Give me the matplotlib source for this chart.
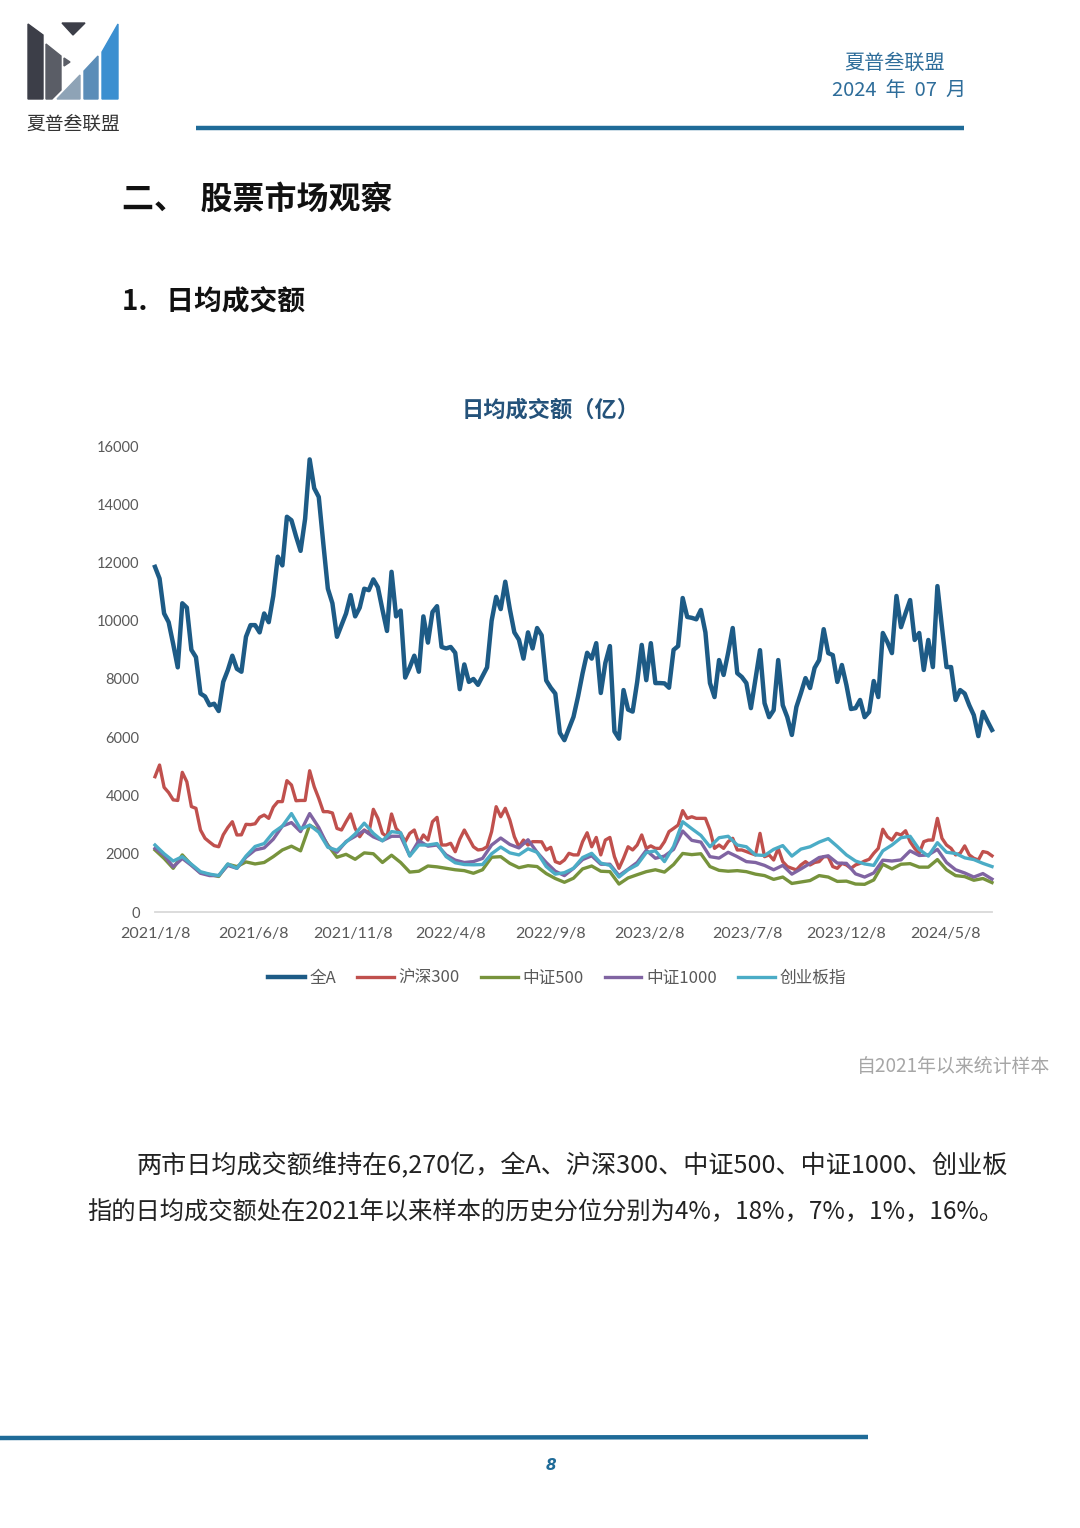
import matplotlib
matplotlib.use("Agg")
import matplotlib.pyplot as plt
import pandas as pd
from matplotlib.patches import Polygon

plt.rcParams['font.family'] = ['Noto Sans CJK SC', 'DejaVu Sans']

# 每周数据, 2021/1/8 起
weeks = pd.date_range('2021-01-08', periods=185, freq='7D')
weeks2 = weeks[::2]

quan_a = [11850, 11450, 10250, 9950, 9200, 8400, 10600, 10450, 9000, 8750,
          7500, 7400, 7100, 7150, 6900, 7900, 8300, 8800, 8350, 8250,
          9450, 9850, 9850, 9600, 10250, 9950, 10850, 12200, 11900, 13570,
          13450, 12900, 12400, 13500, 15540, 14550, 14250, 12650, 11100, 10600,
          9450, 9850, 10250, 10880, 10150, 10450, 11100, 11050, 11420, 11150,
          10380, 9650, 11680, 10150, 10350, 8050, 8400, 8800, 8250, 10150,
          9250, 10300, 10500, 9100, 9050, 9100, 8900, 7650, 8500, 7900,
          8000, 7800, 8100, 8400, 10000, 10820, 10400, 11340, 10400, 9600,
          9350, 8700, 9600, 9050, 9750, 9500, 7950, 7700, 7500, 6150,
          5900, 6300, 6700, 7400, 8200, 8900, 8700, 9230, 7520, 8550,
          9130, 6200, 5950, 7620, 6950, 6880, 7900, 9170, 7960, 9230,
          7860, 7860, 7850, 7700, 9000, 9130, 10780, 10130, 10100, 10050,
          10370, 9600, 7860, 7380, 8650, 8140, 8900, 9750, 8200, 8070,
          7860, 7000, 8000, 8990, 7170, 6690, 6930, 8650, 7100, 6690,
          6080, 7040, 7520, 8030, 7690, 8380, 8650, 9710, 8890, 8820,
          7900, 8480, 7790, 6970, 7000, 7280, 6690, 6870, 7930, 7380,
          9580, 9270, 8890, 10850, 9780, 10260, 10710, 9340, 9580, 8310,
          9340, 8410, 11190, 9780, 8410, 8410, 7280, 7620, 7500, 7100,
          6760, 6040, 6870, 6550, 6250]

hs300 = [4645, 5046, 4280, 4100, 3850, 3830, 4795, 4470, 3620, 3560,
         2815, 2530, 2400, 2280, 2240, 2650, 2900, 3100, 2645, 2650,
         3010, 3000, 3030, 3250, 3330, 3215, 3600, 3790, 3790, 4510,
         4360, 3820, 3830, 3830, 4850, 4300, 3900, 3445, 3445, 3400,
         2870, 2815, 3100, 3365, 2870, 2585, 2815, 2700, 3525, 3215,
         2700, 2585, 3365, 2870, 2700, 2415, 2700, 2815, 2360, 2645,
         2470, 3100, 3250, 2300, 2300, 2360, 2070, 2500, 2815, 2530,
         2240, 2130, 2150, 2240, 2760, 3615, 3270, 3560, 3160, 2585,
         2240, 2470, 2300, 2415, 2415, 2410, 2130, 2220, 1730, 1670,
         1785, 2015, 1960, 1960, 2415, 2720, 2240, 2560, 1960, 2470,
         2560, 1900, 1500, 1845, 2240, 2130, 2300, 2645, 2185, 2270,
         2185, 2185, 2415, 2760, 2870, 2985, 3480, 3215, 3270, 3215,
         3215, 3215, 2815, 2185, 2300, 2185, 2415, 2530, 2130, 2130,
         2075, 2015, 1960, 2700, 1900, 1960, 1785, 2185, 1730, 1560,
         1500, 1445, 1615, 1730, 1615, 1700, 1730, 1900, 1900, 1560,
         1500, 1670, 1615, 1500, 1615, 1670, 1750, 1810, 2015, 2185,
         2840, 2585, 2470, 2700, 2645, 2790, 2415, 2185, 2015, 2415,
         2470, 2470, 3215, 2530, 2300, 2185, 1960, 2015, 2270, 1960,
         1845, 1785, 2075, 2040, 1930]

# 以下三组按双周读数
zz500 = [2130, 1840, 1500, 1960, 1620, 1350, 1290, 1220, 1640, 1560,
         1720, 1650, 1700, 1900, 2130, 2260, 2100, 2980, 2800, 2300,
         1880, 1980, 1810, 2030, 2000, 1700, 1950, 1700, 1370, 1400,
         1580, 1550, 1500, 1450, 1420, 1330, 1450, 1880, 1900, 1670,
         1520, 1590, 1560, 1320, 1150, 1020, 1160, 1480, 1580, 1400,
         1385, 960, 1170, 1280, 1385, 1450, 1370, 1630, 2010, 1970,
         2000, 1560, 1430, 1400, 1420, 1385, 1300, 1250, 1120, 1200,
         980, 1030, 1080, 1250, 1200, 1050, 1060, 960, 950, 1100,
         1640, 1480, 1640, 1660, 1540, 1540, 1800, 1450, 1250, 1215,
         1090, 1150, 1010]

zz1000 = [2185, 1950, 1550, 1840, 1600, 1330, 1250, 1250, 1600, 1500,
          1880, 2130, 2200, 2500, 2950, 3070, 2760, 3380, 2900, 2260,
          2050, 2420, 2600, 2800, 2580, 2450, 2600, 2600, 1930, 2450,
          2260, 2300, 1960, 1780, 1700, 1730, 1840, 2300, 2540, 2320,
          2200, 2480, 2050, 1700, 1400, 1250, 1500, 1800, 1930, 1640,
          1640, 1250, 1470, 1700, 2120, 1845, 1920, 2150, 2780, 2460,
          2400, 1900, 1850, 2050, 1900, 1730, 1700, 1600, 1450, 1600,
          1300, 1480, 1670, 1870, 1930, 1680, 1670, 1310, 1200, 1340,
          1780, 1750, 1790, 2100, 1940, 1960, 2150, 1700, 1450, 1340,
          1200, 1320, 1130]

cybz = [2300, 2000, 1750, 1900, 1640, 1385, 1300, 1250, 1650, 1500,
        1920, 2250, 2350, 2730, 2950, 3380, 2850, 2980, 2740, 2220,
        2120, 2400, 2680, 3050, 2700, 2440, 2760, 2720, 1920, 2300,
        2300, 2350, 1900, 1690, 1630, 1620, 1630, 2000, 2230, 2030,
        1960, 2170, 2050, 1560, 1300, 1350, 1500, 1870, 2015, 1680,
        1600, 1200, 1450, 1620, 2040, 2100, 1730, 2250, 3100, 2860,
        2630, 2240, 2550, 2600, 2300, 2240, 1960, 1940, 2150, 2280,
        1920, 2160, 2240, 2400, 2520, 2250, 1960, 1750, 1650, 1600,
        2100, 2300, 2550, 2600, 2150, 1920, 2380, 2050, 2010, 1860,
        1800, 1670, 1560]

tick_labels = ['2021/1/8', '2021/6/8', '2021/11/8', '2022/4/8', '2022/9/8',
               '2023/2/8', '2023/7/8', '2023/12/8', '2024/5/8']

fig = plt.figure(figsize=(10.8, 15.28), dpi=100)

# 页面底层, 像素坐标
page = fig.add_axes([0, 0, 1, 1])
page.set_xlim(0, 1080)
page.set_ylim(1528, 0)
page.axis('off')

# logo
page.add_patch(Polygon([(28, 24), (43, 35), (43, 99), (28, 99)], color='#3c3e48'))
page.add_patch(Polygon([(46, 44), (61, 56), (61, 90), (52, 99), (46, 99)], color='#5a5d66'))
page.add_patch(Polygon([(62, 23), (85, 23), (73, 35)], color='#3c3e48'))
page.add_patch(Polygon([(64, 58), (70, 62), (64, 66)], color='#5a5d66'))
page.add_patch(Polygon([(57, 99), (80, 75), (80, 99)], color='#8ea3b6'))
page.add_patch(Polygon([(84, 71), (98, 56), (98, 99), (84, 99)], color='#5b8db8'))
page.add_patch(Polygon([(102, 52), (118, 24), (118, 99), (102, 99)], color='#3b8fd0'))
page.text(73, 124, '夏普叁联盟', fontsize=13.5, color='#333333', ha='center', va='center')

# 页眉
page.text(895, 63, '夏普叁联盟', fontsize=14.5, color='#2e6d9a', ha='center', va='center')
page.text(899, 90, '2024  年  07  月', fontsize=14.5, color='#2e6d9a', ha='center', va='center')
page.plot([196, 964], [128, 128], color='#1f6b98', lw=3.2, solid_capstyle='butt')

page.text(122, 200, '二、  股票市场观察', fontsize=23, fontweight='bold', color='#111111',
          ha='left', va='center')
page.text(122, 302, '1.   日均成交额', fontsize=20, fontweight='bold', color='#111111',
          ha='left', va='center')
page.text(551, 410, '日均成交额（亿）', fontsize=16, fontweight='bold', color='#24527a',
          ha='center', va='center')

page.text(1050, 1067, '自2021年以来统计样本', fontsize=13.6, color='#a6a6a6',
          ha='right', va='center')
page.text(137, 1166, '两市日均成交额维持在6,270亿，全A、沪深300、中证500、中证1000、创业板',
          fontsize=18.1, color='#222222', ha='left', va='center')
page.text(87, 1212, '指的日均成交额处在2021年以来样本的历史分位分别为4%，18%，7%，1%，16%。',
          fontsize=17.5, color='#222222', ha='left', va='center')

page.plot([0, 868], [1438, 1437], color='#1f6b98', lw=3.2, solid_capstyle='butt')
page.text(551, 1466, '8', fontsize=11, color='#1f6b98', fontweight='bold',
          style='italic', family='DejaVu Sans', ha='center', va='center')

# 图表
ax = fig.add_axes([155 / 1080, 1 - 912 / 1528, 837 / 1080, 466 / 1528])
ax.plot(weeks, quan_a, color='#1d5b86', lw=3.2, label='全A', clip_on=False)
ax.plot(weeks, hs300, color='#c0504d', lw=2.4, label='沪深300', clip_on=False)
ax.plot(weeks2, zz500, color='#77933c', lw=2.4, label='中证500', clip_on=False)
ax.plot(weeks2, zz1000, color='#8064a2', lw=2.4, label='中证1000', clip_on=False)
ax.plot(weeks2, cybz, color='#4bacc6', lw=2.4, label='创业板指', clip_on=False)

ax.set_xlim(weeks[0], weeks[-1])
ax.set_ylim(0, 16000)
ax.set_yticks(range(0, 16001, 2000))
ax.set_xticks(pd.to_datetime(tick_labels, format='%Y/%m/%d'))
ax.set_xticklabels(tick_labels)
for s in ['top', 'right', 'left']:
    ax.spines[s].set_visible(False)
ax.spines['bottom'].set_color('#d9d9d9')
ax.spines['bottom'].set_linewidth(1.3)
ax.tick_params(axis='both', length=0, colors='#595959')
ax.tick_params(axis='y', pad=11, labelsize=10.5)
ax.tick_params(axis='x', pad=11, labelsize=11.5)
for t in ax.get_xticklabels() + ax.get_yticklabels():
    t.set_family('Lato')
ax.patch.set_alpha(0)

fig.legend(loc='center', bbox_to_anchor=(557 / 1080, 1 - 978 / 1528), ncol=5,
           frameon=False, fontsize=12, handlelength=2.2, handletextpad=0.3,
           columnspacing=1.25, labelcolor='#595959')

fig.savefig('out.png', dpi=100)
